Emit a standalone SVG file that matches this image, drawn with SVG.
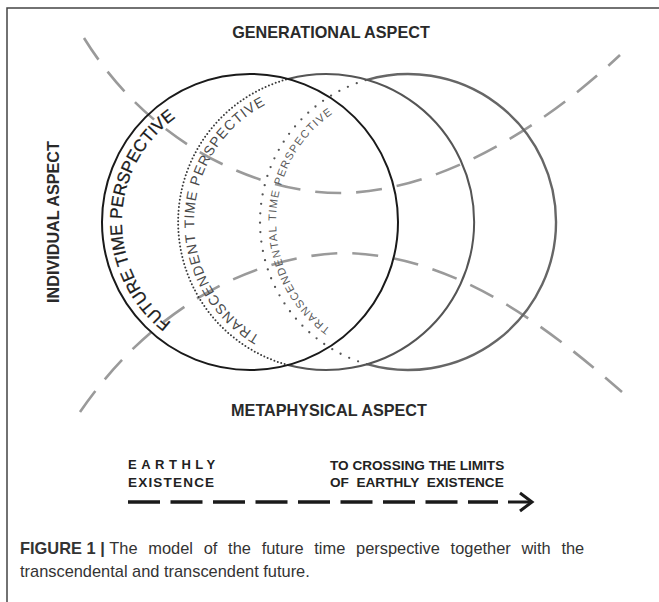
<svg xmlns="http://www.w3.org/2000/svg" width="659" height="602" viewBox="0 0 659 602">
<style>
.frame{stroke:#444;stroke-width:1.5;fill:none}
.aspect{font-family:"Liberation Sans",Arial,sans-serif;font-weight:bold;font-size:16.2px;fill:#2a2a2a}
.arc{fill:none}
.dense{fill:none;stroke:#3a3a3a;stroke-width:2;stroke-linecap:round;stroke-dasharray:0 3.6}
.sparse{fill:none;stroke:#555;stroke-width:2.3;stroke-linecap:round;stroke-dasharray:0 9.5}
.ctext{font-family:"Liberation Sans",Arial,sans-serif}
.aspline{fill:none;stroke:#9a9a9a;stroke-width:2.6;stroke-dasharray:26 15}
.arrow{fill:none;stroke:#1a1a1a;stroke-width:3.5}
.bottom{font-family:"Liberation Sans",Arial,sans-serif;font-weight:bold;fill:#222;white-space:pre}
.caption{font-family:"Liberation Sans",Arial,sans-serif;font-size:16.4px;fill:#333}
</style>
<defs>
<path id="p1" d="M171.2,322.9 A128,128 0 0 1 206.2,101.7"/>
<path id="p2" d="M260,336.3 A132,132 0 0 1 280.9,98"/>
<path id="p3" d="M330.4,328.8 A132,132 0 0 1 362.9,98"/>
</defs>
<path class="frame" d="M7,602 V8 H659"/>
<g id="connectors">
<path class="aspline" d="M84,38 C150,145 260,195 345,193 C440,190 540,130 620,55"/>
<path class="aspline" d="M80,412 C150,310 250,255 345,253 C450,255 540,320 622,392"/>
<path class="arrow" d="M128,502 H498" style="stroke-dasharray:32 10.5"/>
<path class="arrow" d="M508,502 H531" style="stroke-width:3"/>
<path class="arrow" d="M520,493 L532,502 L520,511" style="stroke-width:3;stroke-linejoin:miter"/>
</g>
<g id="transcendental">
<path class="arc" d="M367,79.8 A148,148 0 1 1 367,364.2" style="stroke:#666;stroke-width:2.4"/>
<path class="sparse" d="M367,364.2 A148,148 0 0 1 367,79.8"/>
<text class="ctext" style="font-size:11px;fill:#5a5a5a;letter-spacing:1.3px"><textPath href="#p3">TRANSCENDENTAL TIME PERSPECTIVE</textPath></text>
</g>
<g id="transcendent">
<path class="arc" d="M288,79 A148,148 0 1 1 288,365" style="stroke:#555;stroke-width:2"/>
<path class="dense" d="M288,365 A148,148 0 0 1 288,79"/>
<text class="ctext" style="font-size:14px;fill:#4a4a4a;letter-spacing:1px"><textPath href="#p2">TRANSCENDENT TIME PERSPECTIVE</textPath></text>
</g>
<g id="future">
<circle cx="250" cy="222" r="148" fill="none" stroke="#1a1a1a" stroke-width="2"/>
<text class="ctext" style="font-size:17px;fill:#1a1a1a;stroke:#1a1a1a;stroke-width:0.3px"><textPath href="#p1">FUTURE TIME PERSPECTIVE</textPath></text>
</g>
<g id="generational"><text class="aspect" x="331" y="38" text-anchor="middle">GENERATIONAL ASPECT</text></g>
<g id="metaphysical"><text class="aspect" x="329" y="416" text-anchor="middle">METAPHYSICAL ASPECT</text></g>
<g id="individual"><text class="aspect" transform="translate(59,222) rotate(-90)" text-anchor="middle">INDIVIDUAL ASPECT</text></g>
<g id="earthly">
<text class="bottom" x="128" y="469" style="font-size:13px;letter-spacing:4.5px">EARTHLY</text>
<text class="bottom" x="128" y="487" style="font-size:13.5px;letter-spacing:1.2px">EXISTENCE</text>
</g>
<g id="crossing">
<text class="bottom" x="330" y="470" style="font-size:13.6px">TO CROSSING THE LIMITS</text>
<text class="bottom" x="330" y="487" style="font-size:13.6px">OF  EARTHLY  EXISTENCE</text>
</g>
<g id="caption">
<text class="caption" x="20" y="554" word-spacing="6.2"><tspan font-weight="bold" word-spacing="0">FIGURE 1 |</tspan><tspan word-spacing="0"> </tspan>The model of the future time perspective together with the</text>
<text class="caption" x="20" y="577">transcendental and transcendent future.</text>
</g>
</svg>
